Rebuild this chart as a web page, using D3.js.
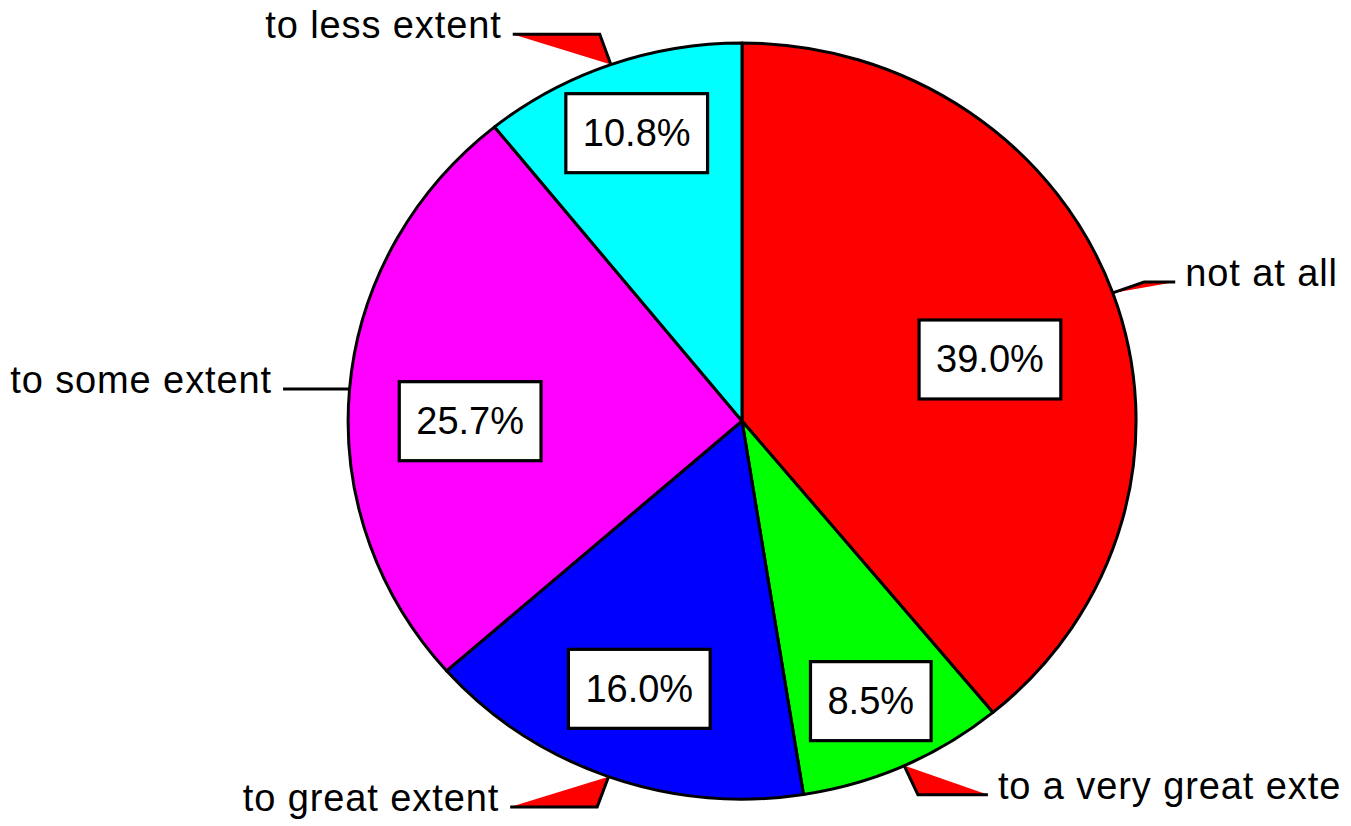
<!DOCTYPE html>
<html>
<head>
<meta charset="utf-8">
<script src="https://cdn.jsdelivr.net/npm/d3@7"></script>
<style>
  body { margin: 0; background: #fff; }
  text { font-family: "Liberation Sans", Arial, sans-serif; }
</style>
</head>
<body>
<div id="chart"></div>
<script>
// data
var categories = ["not at all", "to a very great exte", "to great extent", "to some extent", "to less extent"];
var percents = [39.0, 8.5, 16.0, 25.7, 10.8];
var colors = ["#ff0000", "#00ff00", "#0000ff", "#ff00ff", "#00ffff"];

// layout (label box placement: radius fraction, angle shift in degrees; leader horizontal length)
var labelPlace = [[0.65, 5.3], [0.81, 0.5], [0.755, 0.4], [0.69, -4.9], [0.807, 0.1]];
var leaderLen = [31, 70, 87, 33, 87];

var width = 1351, height = 826;
var cx = 742, cy = 421, rx = 394, ry = 378;

var svg = d3.select("#chart")
    .append("svg")
        .attr("width", width)
        .attr("height", height);

var data = categories.map(function(c, i) { return {name: c, value: percents[i], color: colors[i], i: i}; });

var pie = d3.pie().sort(null).value(d => d.value);
var arcs = pie(data);

// unit arc scaled into an ellipse
var arc = d3.arc().innerRadius(0).outerRadius(1);

var g = svg.append("g")
    .attr("transform", "translate(" + cx + "," + cy + ") scale(" + rx + "," + ry + ")");

g.selectAll("path")
    .data(arcs)
    .enter()
    .append("path")
        .attr("d", arc)
        .attr("fill", d => d.data.color)
        .attr("stroke", "#000")
        .attr("stroke-width", 3)
        .attr("vector-effect", "non-scaling-stroke")
        .attr("stroke-linejoin", "round");

function pt(angle, f) {
    return [cx + rx * f * Math.sin(angle), cy - ry * f * Math.cos(angle)];
}

// leader lines with category labels
arcs.forEach(function(d, i) {
    var mid = (d.startAngle + d.endAngle) / 2;
    var p0 = pt(mid, 1.0);
    var p1 = pt(mid, 1.085);
    if (Math.abs(Math.cos(mid)) < 0.15) p1[1] = p0[1];  // side label: straight leader
    var dir = Math.sin(mid) >= 0 ? 1 : -1;
    var p2 = [p1[0] + dir * leaderLen[i], p1[1]];

    svg.append("path")
        .attr("d", "M" + p0 + "L" + p1 + "L" + p2)
        .attr("fill", "#ff0000")
        .attr("stroke", "#000")
        .attr("stroke-width", 3);

    svg.append("text")
        .attr("x", p2[0] + dir * (dir > 0 ? 10 : 11))
        .attr("y", p2[1] + 4)
        .attr("text-anchor", dir > 0 ? "start" : "end")
        .attr("font-size", 38)
        .attr("letter-spacing", "0.9px")
        .attr("fill", "#000")
        .text(d.data.name);
});

// percentage boxes
arcs.forEach(function(d, i) {
    var mid = (d.startAngle + d.endAngle) / 2 + labelPlace[i][1] * Math.PI / 180;
    var c = pt(mid, labelPlace[i][0]);
    var lg = svg.append("g");
    var rect = lg.append("rect");
    var t = lg.append("text")
        .attr("x", c[0])
        .attr("y", c[1] + 13)
        .attr("text-anchor", "middle")
        .attr("font-size", 38)
        .attr("fill", "#000")
        .text(d3.format(".1f")(d.data.value) + "%");
    var w = t.node().getComputedTextLength() + 34;
    var h = 79;
    rect.attr("x", c[0] - w / 2)
        .attr("y", c[1] - h / 2)
        .attr("width", w)
        .attr("height", h)
        .attr("fill", "#fff")
        .attr("stroke", "#000")
        .attr("stroke-width", 3.2);
});
</script>
</body>
</html>
